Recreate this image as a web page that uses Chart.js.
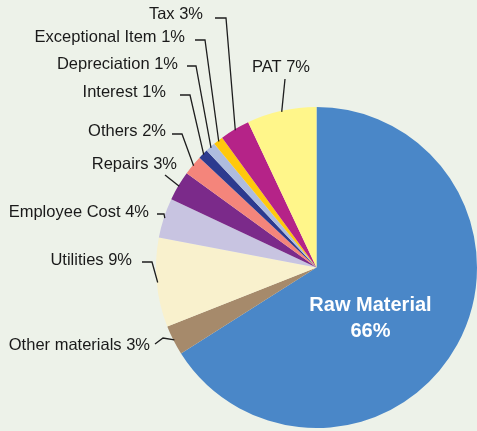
<!DOCTYPE html>
<html>
<head>
<meta charset="utf-8">
<script src="https://cdn.jsdelivr.net/npm/chart.js@4.4.1/dist/chart.umd.min.js"></script>
<style>
  html, body { margin: 0; padding: 0; background: #edf2e9; }
  canvas { display: block; }
</style>
</head>
<body>
<canvas id="cost-pie" width="477" height="431"></canvas>
<script>
// Cost breakdown, clockwise from 12 o'clock
var categories = ["Raw Material", "Other materials", "Utilities", "Employee Cost", "Repairs",
  "Others", "Interest", "Depreciation", "Exceptional Item", "Tax", "PAT"];
var shares = [66, 3, 9, 4, 3, 2, 1, 1, 1, 3, 7];
var sliceColors = ["#4a87c8", "#a68a6b", "#f9f1cd", "#c8c4e1", "#7b2a8a", "#f4857b",
  "#2c3a8f", "#aebcde", "#ffc80d", "#b52388", "#fff68a"];

// where each outside label sits: right edge of text, text middle, leader start and elbow
var labelSpots = [
  null,
  { x: 150, y: 345, from: [155, 344], elbow: [163, 338] },
  { x: 132, y: 260, from: [142, 262], elbow: [152, 262] },
  { x: 149, y: 212, from: [157, 214], elbow: [164, 214] },
  { x: 177, y: 164, from: [165, 175], elbow: [165, 175] },
  { x: 166, y: 131, from: [172, 134], elbow: [182, 134] },
  { x: 166, y: 92,  from: [180, 95],  elbow: [190, 95] },
  { x: 178, y: 64,  from: [187, 66],  elbow: [196, 66] },
  { x: 185, y: 37,  from: [195, 40],  elbow: [205, 40] },
  { x: 203, y: 14,  from: [215, 18],  elbow: [226, 18] },
  { x: 310, y: 67,  from: [285, 79],  elbow: [285, 79] }
];

var pieLabels = {
  id: "pieLabels",
  afterDatasetsDraw: function (chart) {
    var ctx = chart.ctx;
    var arcs = chart.getDatasetMeta(0).data;
    ctx.save();
    arcs.forEach(function (arc, i) {
      var p = arc.getProps(["x", "y", "startAngle", "endAngle", "outerRadius"], true);
      var mid = (p.startAngle + p.endAngle) / 2;
      var text = categories[i] + " " + shares[i] + "%";

      if (i === 0) {
        // big label sits inside the slice
        ctx.fillStyle = "#ffffff";
        ctx.font = "bold 20px 'Liberation Sans', Arial, sans-serif";
        ctx.textAlign = "center";
        ctx.textBaseline = "middle";
        ctx.fillText(categories[i], p.x + 54, p.y + 38);
        ctx.fillText(shares[i] + "%", p.x + 54, p.y + 64);
        return;
      }

      var s = labelSpots[i];
      var ax = p.x + Math.cos(mid) * (p.outerRadius - 1);
      var ay = p.y + Math.sin(mid) * (p.outerRadius - 1);

      ctx.strokeStyle = "#1e1e1e";
      ctx.lineWidth = 1.3;
      ctx.beginPath();
      ctx.moveTo(s.from[0], s.from[1]);
      ctx.lineTo(s.elbow[0], s.elbow[1]);
      ctx.lineTo(ax, ay);
      ctx.stroke();

      ctx.fillStyle = "#1a1a1a";
      ctx.font = "16.5px 'Liberation Sans', Arial, sans-serif";
      ctx.textAlign = "right";
      ctx.textBaseline = "middle";
      ctx.fillText(text, s.x, s.y);
    });
    ctx.restore();
  }
};

new Chart(document.getElementById("cost-pie").getContext("2d"), {
  type: "pie",
  data: {
    labels: categories,
    datasets: [{
      data: shares,
      backgroundColor: sliceColors,
      borderWidth: 0
    }]
  },
  options: {
    responsive: false,
    animation: false,
    layout: { padding: { left: 156, top: 107, right: 0, bottom: 3 } },
    plugins: {
      legend: { display: false },
      tooltip: { enabled: false }
    }
  },
  plugins: [pieLabels]
});
</script>
</body>
</html>
